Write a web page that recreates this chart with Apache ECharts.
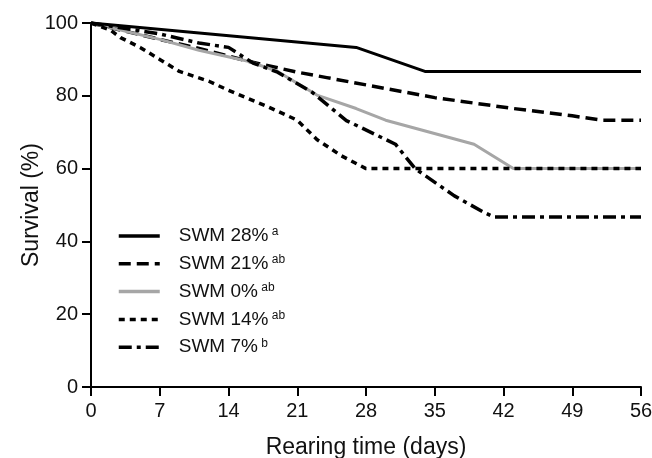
<!DOCTYPE html>
<html>
<head>
<meta charset="utf-8">
<script src="https://cdn.jsdelivr.net/npm/echarts@6/dist/echarts.min.js"></script>
<style>html,body{margin:0;padding:0;background:#fff;}#c{width:652px;height:458px;}</style>
</head>
<body>
<div id="c"></div>
<script>
const xTicks = [0, 7, 14, 21, 28, 35, 42, 49, 56];
const yTicks = [0, 20, 40, 60, 80, 100];

const days28 = [0, 27, 34, 56];
const surv28 = [100, 93.3, 86.7, 86.7];

const days21 = [0, 7, 11, 16, 21, 24, 28, 35, 43, 49, 52, 56];
const surv21 = [100, 95.5, 93, 89.5, 86.5, 85, 83, 79.5, 76.5, 74.5, 73.3, 73.3];

const days0 = [0, 7, 11, 16, 19, 23, 27, 30, 39, 43, 56];
const surv0 = [100, 95.5, 92.5, 89.5, 86.7, 80.2, 76.5, 73.3, 66.7, 60, 60];

const days14 = [0, 2, 3, 5, 7, 9, 12, 14, 18, 21, 23, 25.5, 28, 56];
const surv14 = [100, 98, 96, 93.3, 90, 86.7, 84, 81.5, 77, 73.3, 68, 63.5, 60, 60];

const days7 = [0, 7, 11, 14, 16.5, 19, 22.5, 26, 30, 31, 33, 37, 40, 41, 56];
const surv7 = [100, 97, 94.5, 93.3, 89, 86.5, 81, 73.2, 68, 66.7, 60, 52.5, 48, 46.7, 46.7];

const names = ['SWM 28%', 'SWM 21%', 'SWM 0%', 'SWM 14%', 'SWM 7%'];
const sups = ['a', 'ab', 'ab', 'ab', 'b'];

function pairs(d, s) { return d.map((x, i) => [x, s[i]]); }

const FONT = '"Liberation Sans", Arial, sans-serif';
const styles = [
  { color: '#000', width: 3, type: 'solid' },
  { color: '#000', width: 3.5, type: [12, 6] },
  { color: '#a6a6a6', width: 3, type: 'solid' },
  { color: '#000', width: 3.5, type: [6, 5] },
  { color: '#000', width: 3.5, type: [13, 5, 4, 5] }
];
const datas = [pairs(days28, surv28), pairs(days21, surv21), pairs(days0, surv0), pairs(days14, surv14), pairs(days7, surv7)];

const series = names.map((n, i) => ({
  name: n,
  type: 'line',
  data: datas[i],
  symbol: 'none',
  smooth: false,
  lineStyle: { color: styles[i].color, width: styles[i].width, type: styles[i].type, cap: 'butt' },
  itemStyle: { color: styles[i].color },
  z: i === 0 ? 5 : 3
}));

const chart = echarts.init(document.getElementById('c'), null, { renderer: 'canvas' });
chart.setOption({
  animation: false,
  backgroundColor: '#fff',
  grid: { left: 91, right: 11, top: 23, bottom: 71, containLabel: false, outerBoundsMode: 'none' },
  legend: {
    orient: 'vertical',
    left: 112,
    top: 221,
    itemWidth: 41,
    itemHeight: 14,
    itemGap: 8.3,
    itemStyle: { opacity: 0 },
    lineStyle: { width: 3.5 },
    data: names,
    formatter: function (n) { return '{n|' + n + '} {s|' + sups[names.indexOf(n)] + '}'; },
    textStyle: {
      padding: [0, 0, 0, 14],
      rich: {
        n: { fontFamily: FONT, fontSize: 19, color: '#111', lineHeight: 20 },
        s: { fontFamily: FONT, fontSize: 12, color: '#111', verticalAlign: 'top', lineHeight: 14 }
      }
    }
  },
  xAxis: {
    type: 'value', min: 0, max: 56, interval: 7,
    name: 'Rearing time (days)', nameLocation: 'middle', nameGap: 49,
    nameTextStyle: { fontFamily: FONT, fontSize: 23, color: '#111' },
    axisLine: { onZero: false, lineStyle: { color: '#000', width: 2 } },
    axisTick: { show: true, length: 9, lineStyle: { color: '#000', width: 2 } },
    axisLabel: { fontFamily: FONT, fontSize: 20, color: '#111', margin: 14,
      formatter: v => xTicks.indexOf(v) >= 0 ? String(v) : '' },
    splitLine: { show: false }
  },
  yAxis: {
    type: 'value', min: 0, max: 100, interval: 20,
    name: 'Survival (%)', nameLocation: 'middle', nameGap: 48, nameMoveOverlap: false,
    nameTextStyle: { fontFamily: FONT, fontSize: 23, color: '#111' },
    axisLine: { show: true, lineStyle: { color: '#000', width: 2 } },
    axisTick: { show: true, length: 9, lineStyle: { color: '#000', width: 2 } },
    axisLabel: { fontFamily: FONT, fontSize: 20, color: '#111', margin: 13,
      formatter: v => yTicks.indexOf(v) >= 0 ? String(v) : '' },
    splitLine: { show: false }
  },
  series: series
});
</script>
</body>
</html>
